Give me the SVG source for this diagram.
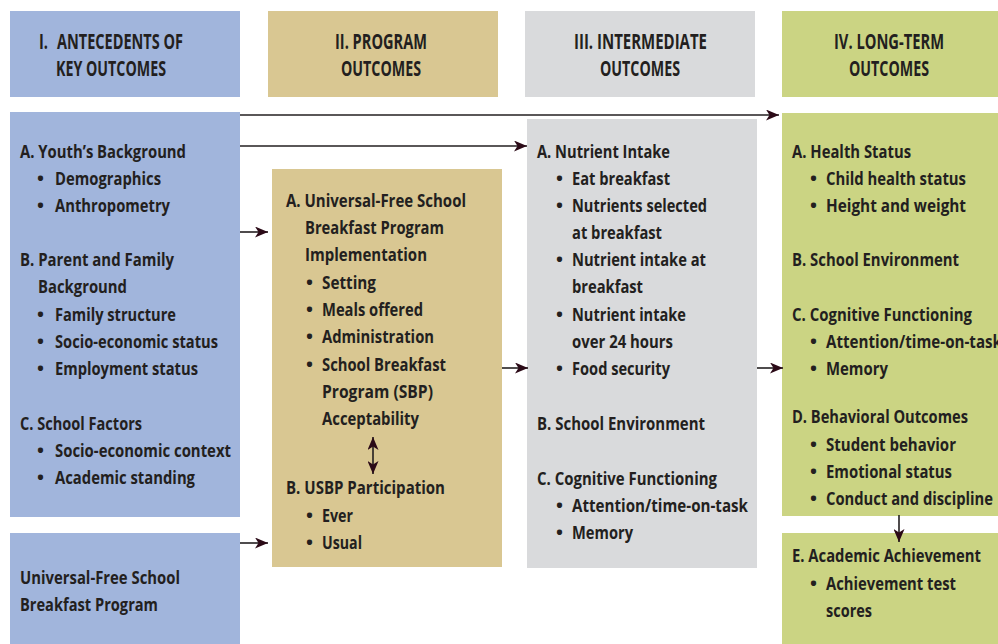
<svg xmlns="http://www.w3.org/2000/svg" width="998" height="644" viewBox="0 0 998 644">
  <style>
    text { font-family: "Open Sans", "Liberation Sans", sans-serif; font-weight: 700; fill: #231f20; }
    .h { font-size: 20.5px; }
    .b { font-size: 18.5px; }
    .blue { fill: #a1b5dc; }
    .tan { fill: #d9c792; }
    .grey { fill: #d9dadc; }
    .green { fill: #cbd483; }
    .conn { stroke: #231f20; stroke-width: 1.6; fill: none; }
  </style>
  <defs>
    <marker id="head" viewBox="0 0 13 11" refX="13" refY="5.5" markerWidth="13" markerHeight="11" markerUnits="userSpaceOnUse" orient="auto-start-reverse">
      <path d="M0,0 L13,5.5 L0,11 L3.5,5.5 Z" fill="#2b0a17"/>
    </marker>
  </defs>

  <!-- column headers -->
  <g id="header-antecedents">
    <rect class="blue" x="10" y="11" width="230" height="86"/>
    <text class="h" x="39" y="49" textLength="9" lengthAdjust="spacingAndGlyphs">I.</text>
    <text class="h" x="57" y="49" textLength="126" lengthAdjust="spacingAndGlyphs">ANTECEDENTS OF</text>
    <text class="h" x="56" y="76" textLength="110" lengthAdjust="spacingAndGlyphs">KEY OUTCOMES</text>
  </g>
  <g id="header-program">
    <rect class="tan" x="268" y="11" width="230" height="86"/>
    <text class="h" x="335" y="49" textLength="92" lengthAdjust="spacingAndGlyphs">II. PROGRAM</text>
    <text class="h" x="341" y="76" textLength="80" lengthAdjust="spacingAndGlyphs">OUTCOMES</text>
  </g>
  <g id="header-intermediate">
    <rect class="grey" x="525" y="11" width="230" height="86"/>
    <text class="h" x="574" y="49" textLength="133" lengthAdjust="spacingAndGlyphs">III. INTERMEDIATE</text>
    <text class="h" x="600" y="76" textLength="80" lengthAdjust="spacingAndGlyphs">OUTCOMES</text>
  </g>
  <g id="header-longterm">
    <rect class="green" x="782" y="11" width="216" height="86"/>
    <text class="h" x="834" y="49" textLength="110" lengthAdjust="spacingAndGlyphs">IV. LONG-TERM</text>
    <text class="h" x="849" y="76" textLength="80" lengthAdjust="spacingAndGlyphs">OUTCOMES</text>
  </g>

  <!-- I. antecedents -->
  <g id="antecedents">
    <rect class="blue" x="10" y="112" width="230" height="405"/>
    <text class="b" x="20" y="158" textLength="166" lengthAdjust="spacingAndGlyphs">A. Youth’s Background</text>
    <text class="b" x="37" y="185">•</text>
    <text class="b" x="55" y="185" textLength="106" lengthAdjust="spacingAndGlyphs">Demographics</text>
    <text class="b" x="37" y="212">•</text>
    <text class="b" x="55" y="212" textLength="115" lengthAdjust="spacingAndGlyphs">Anthropometry</text>
    <text class="b" x="20" y="266" textLength="154" lengthAdjust="spacingAndGlyphs">B. Parent and Family</text>
    <text class="b" x="38" y="293" textLength="89" lengthAdjust="spacingAndGlyphs">Background</text>
    <text class="b" x="37" y="321">•</text>
    <text class="b" x="55" y="321" textLength="121" lengthAdjust="spacingAndGlyphs">Family structure</text>
    <text class="b" x="37" y="348">•</text>
    <text class="b" x="55" y="348" textLength="163" lengthAdjust="spacingAndGlyphs">Socio-economic status</text>
    <text class="b" x="37" y="375">•</text>
    <text class="b" x="55" y="375" textLength="143" lengthAdjust="spacingAndGlyphs">Employment status</text>
    <text class="b" x="20" y="430" textLength="122" lengthAdjust="spacingAndGlyphs">C. School Factors</text>
    <text class="b" x="37" y="457">•</text>
    <text class="b" x="55" y="457" textLength="176" lengthAdjust="spacingAndGlyphs">Socio-economic context</text>
    <text class="b" x="37" y="484">•</text>
    <text class="b" x="55" y="484" textLength="140" lengthAdjust="spacingAndGlyphs">Academic standing</text>
  </g>
  <g id="usbp-program">
    <rect class="blue" x="10" y="533" width="230" height="111"/>
    <text class="b" x="20" y="584" textLength="160" lengthAdjust="spacingAndGlyphs">Universal-Free School</text>
    <text class="b" x="20" y="611" textLength="138" lengthAdjust="spacingAndGlyphs">Breakfast Program</text>
  </g>

  <!-- II. program outcomes -->
  <g id="program">
    <rect class="tan" x="272" y="169" width="230" height="398"/>
    <text class="b" x="286" y="207" textLength="180" lengthAdjust="spacingAndGlyphs">A. Universal-Free School</text>
    <text class="b" x="305" y="234" textLength="139" lengthAdjust="spacingAndGlyphs">Breakfast Program</text>
    <text class="b" x="305" y="261" textLength="122" lengthAdjust="spacingAndGlyphs">Implementation</text>
    <text class="b" x="306" y="289">•</text>
    <text class="b" x="322" y="289" textLength="54" lengthAdjust="spacingAndGlyphs">Setting</text>
    <text class="b" x="306" y="316">•</text>
    <text class="b" x="322" y="316" textLength="101" lengthAdjust="spacingAndGlyphs">Meals offered</text>
    <text class="b" x="306" y="343">•</text>
    <text class="b" x="322" y="343" textLength="112" lengthAdjust="spacingAndGlyphs">Administration</text>
    <text class="b" x="306" y="371">•</text>
    <text class="b" x="322" y="371" textLength="124" lengthAdjust="spacingAndGlyphs">School Breakfast</text>
    <text class="b" x="322" y="398" textLength="111" lengthAdjust="spacingAndGlyphs">Program (SBP)</text>
    <text class="b" x="322" y="425" textLength="97" lengthAdjust="spacingAndGlyphs">Acceptability</text>
    <text class="b" x="286" y="494" textLength="159" lengthAdjust="spacingAndGlyphs">B. USBP Participation</text>
    <text class="b" x="306" y="522">•</text>
    <text class="b" x="322" y="522" textLength="31" lengthAdjust="spacingAndGlyphs">Ever</text>
    <text class="b" x="306" y="549">•</text>
    <text class="b" x="322" y="549" textLength="40" lengthAdjust="spacingAndGlyphs">Usual</text>
  </g>

  <!-- III. intermediate outcomes -->
  <g id="intermediate">
    <rect class="grey" x="527" y="119" width="230" height="449"/>
    <text class="b" x="537" y="158" textLength="133" lengthAdjust="spacingAndGlyphs">A. Nutrient Intake</text>
    <text class="b" x="556" y="185">•</text>
    <text class="b" x="572" y="185" textLength="98" lengthAdjust="spacingAndGlyphs">Eat breakfast</text>
    <text class="b" x="556" y="212">•</text>
    <text class="b" x="572" y="212" textLength="135" lengthAdjust="spacingAndGlyphs">Nutrients selected</text>
    <text class="b" x="572" y="239" textLength="90" lengthAdjust="spacingAndGlyphs">at breakfast</text>
    <text class="b" x="556" y="266">•</text>
    <text class="b" x="572" y="266" textLength="134" lengthAdjust="spacingAndGlyphs">Nutrient intake at</text>
    <text class="b" x="572" y="293" textLength="71" lengthAdjust="spacingAndGlyphs">breakfast</text>
    <text class="b" x="556" y="321">•</text>
    <text class="b" x="572" y="321" textLength="114" lengthAdjust="spacingAndGlyphs">Nutrient intake</text>
    <text class="b" x="572" y="348" textLength="101" lengthAdjust="spacingAndGlyphs">over 24 hours</text>
    <text class="b" x="556" y="375">•</text>
    <text class="b" x="572" y="375" textLength="98" lengthAdjust="spacingAndGlyphs">Food security</text>
    <text class="b" x="537" y="430" textLength="168" lengthAdjust="spacingAndGlyphs">B. School Environment</text>
    <text class="b" x="537" y="485" textLength="180" lengthAdjust="spacingAndGlyphs">C. Cognitive Functioning</text>
    <text class="b" x="556" y="512">•</text>
    <text class="b" x="572" y="512" textLength="176" lengthAdjust="spacingAndGlyphs">Attention/time-on-task</text>
    <text class="b" x="556" y="539">•</text>
    <text class="b" x="572" y="539" textLength="61" lengthAdjust="spacingAndGlyphs">Memory</text>
  </g>

  <!-- IV. long-term outcomes (column runs to the right edge) -->
  <g id="longterm">
    <rect class="green" x="782" y="113" width="216" height="403"/>
    <text class="b" x="792" y="158" textLength="119" lengthAdjust="spacingAndGlyphs">A. Health Status</text>
    <text class="b" x="810" y="185">•</text>
    <text class="b" x="826" y="185" textLength="140" lengthAdjust="spacingAndGlyphs">Child health status</text>
    <text class="b" x="810" y="212">•</text>
    <text class="b" x="826" y="212" textLength="140" lengthAdjust="spacingAndGlyphs">Height and weight</text>
    <text class="b" x="792" y="266" textLength="167" lengthAdjust="spacingAndGlyphs">B. School Environment</text>
    <text class="b" x="792" y="321" textLength="180" lengthAdjust="spacingAndGlyphs">C. Cognitive Functioning</text>
    <text class="b" x="810" y="348">•</text>
    <text class="b" x="826" y="348" textLength="176" lengthAdjust="spacingAndGlyphs">Attention/time-on-task</text>
    <text class="b" x="810" y="375">•</text>
    <text class="b" x="826" y="375" textLength="62" lengthAdjust="spacingAndGlyphs">Memory</text>
    <text class="b" x="792" y="423" textLength="176" lengthAdjust="spacingAndGlyphs">D. Behavioral Outcomes</text>
    <text class="b" x="810" y="451">•</text>
    <text class="b" x="826" y="451" textLength="130" lengthAdjust="spacingAndGlyphs">Student behavior</text>
    <text class="b" x="810" y="478">•</text>
    <text class="b" x="826" y="478" textLength="126" lengthAdjust="spacingAndGlyphs">Emotional status</text>
    <text class="b" x="810" y="505">•</text>
    <text class="b" x="826" y="505" textLength="167" lengthAdjust="spacingAndGlyphs">Conduct and discipline</text>
  </g>
  <g id="achievement">
    <rect class="green" x="782" y="533" width="216" height="111"/>
    <text class="b" x="792" y="562" textLength="189" lengthAdjust="spacingAndGlyphs">E. Academic Achievement</text>
    <text class="b" x="810" y="590">•</text>
    <text class="b" x="826" y="590" textLength="130" lengthAdjust="spacingAndGlyphs">Achievement test</text>
    <text class="b" x="826" y="617" textLength="46" lengthAdjust="spacingAndGlyphs">scores</text>
  </g>

  <!-- connectors -->
  <g id="connectors">
    <line class="conn" x1="240" y1="115" x2="779" y2="115" marker-end="url(#head)"/>
    <line class="conn" x1="240" y1="146" x2="527" y2="146" marker-end="url(#head)"/>
    <line class="conn" x1="240" y1="232" x2="268" y2="232" marker-end="url(#head)"/>
    <line class="conn" x1="240" y1="543" x2="268" y2="543" marker-end="url(#head)"/>
    <line class="conn" x1="502" y1="368" x2="528" y2="368" marker-end="url(#head)"/>
    <line class="conn" x1="757" y1="368" x2="783" y2="368" marker-end="url(#head)"/>
    <line class="conn" x1="373" y1="437" x2="373" y2="474" marker-start="url(#head)" marker-end="url(#head)"/>
    <line class="conn" x1="899" y1="515" x2="899" y2="542" marker-end="url(#head)"/>
  </g>
</svg>
